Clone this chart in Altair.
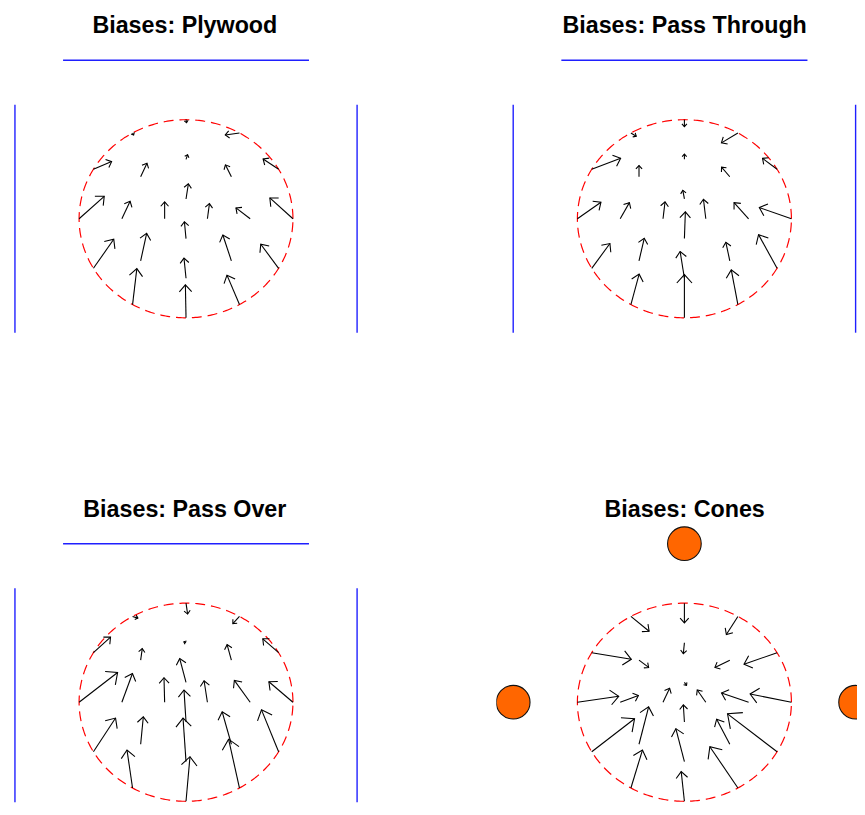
import math
import numpy as np
import pandas as pd
import altair as alt

# ---------------- data ----------------
TITLES = ["Biases: Plywood", "Biases: Pass Through", "Biases: Pass Over", "Biases: Cones"]

# arrow tails: ring radius and polar angle (degrees)
TAIL_R = [1.0] * 12 + [0.6] * 8 + [0.2] * 4
TAIL_DEG = [0, 30, 60, 90, 120, 150, 180, 210, 240, 270, 300, 330,
            0, 45, 90, 135, 180, 225, 270, 315,
            0, 90, 180, 270]

U_PLYWOOD = [-0.216, -0.145, -0.133, 0.005, 0.01, 0.17, 0.235, 0.19, 0.04, -0.006, -0.117, -0.167,
             -0.133, -0.056, 0.015, 0.059, 0.077, 0.056, -0.019, -0.08,
             0.019, 0.022, 0.0, -0.015]
V_PLYWOOD = [0.21, 0.103, -0.02, -0.03, -0.02, 0.077, 0.227, 0.293, 0.363, 0.333, 0.297, 0.243,
             0.11, 0.12, 0.047, 0.137, 0.177, 0.277, 0.203, 0.26,
             0.153, 0.153, 0.17, 0.17]

U_THROUGH = [-0.3, -0.136, -0.154, 0.0, 0.05, 0.27, 0.22, 0.17, 0.077, 0.0, -0.062, -0.173,
             -0.136, -0.077, 0.0, 0.0, 0.086, 0.049, -0.04, -0.037,
             -0.022, -0.015, 0.019, 0.009]
V_THROUGH = [0.113, 0.11, -0.1, -0.07, -0.033, 0.11, 0.167, 0.25, 0.307, 0.437, 0.35, 0.34,
             0.163, 0.097, 0.053, 0.113, 0.163, 0.227, 0.27, 0.187,
             0.197, 0.087, 0.17, 0.27]

U_OVER = [-0.225, -0.148, -0.062, 0.015, 0.05, 0.16, 0.36, 0.207, -0.052, 0.037, -0.102, -0.16,
          -0.148, -0.04, -0.02, 0.015, 0.099, 0.025, -0.028, -0.086,
          -0.031, -0.059, -0.006, -0.019]
V_OVER = [0.207, 0.14, -0.073, -0.11, -0.017, 0.157, 0.3, 0.34, 0.383, 0.45, 0.493, 0.423,
          0.22, 0.157, 0.01, 0.117, 0.29, 0.277, 0.44, 0.327,
          0.217, 0.24, 0.247, 0.323]

U_CONES = [-0.386, -0.309, -0.108, 0.0, 0.17, 0.37, 0.386, 0.4, 0.108, -0.03, -0.262, -0.463,
           -0.253, -0.139, -0.01, 0.09, 0.17, 0.09, -0.08, -0.123,
           -0.08, 0.02, 0.062, -0.01]
V_CONES = [0.083, -0.117, -0.183, -0.2, -0.15, -0.067, 0.06, 0.333, 0.383, 0.3, 0.417, 0.383,
           0.093, -0.073, -0.11, -0.073, 0.067, 0.377, 0.333, 0.253,
           0.123, -0.03, 0.14, 0.173]

# walls (blue) and cones (orange)
WALL_X1 = [-1.15, -1.6, 1.6]
WALL_X2 = [1.15, -1.6, 1.6]
WALL_Y1 = [1.6, -1.15, -1.15]
WALL_Y2 = [1.6, 1.15, 1.15]
CONE_X = [0.0, -1.6, 1.6]
CONE_Y = [1.6, 0.0, 0.0]

# ---------------- layout ----------------
SX, SY = 108.0, 100.0  # px per data unit
XDOM_L = [-1.665, 1.615]
XDOM_R = [-1.757, 1.613]
YDOM_TOP = [-1.78, 1.72]
YDOM_BOT = [-1.01, 1.8]
HEAD_PATH = "M-0.669,0.743L0,0L0.669,0.743"


def panel(title, U, V, walls, cones, xdom, ydom, dx, toff):
    w = round((xdom[1] - xdom[0]) * SX)
    h = round((ydom[1] - ydom[0]) * SY)
    rad = [math.radians(d) for d in TAIL_DEG]
    df = pd.DataFrame({
        "x0": [r * math.cos(a) for r, a in zip(TAIL_R, rad)],
        "y0": [r * math.sin(a) for r, a in zip(TAIL_R, rad)],
        "u": U, "v": V,
    })
    df["x1"] = df["x0"] + df["u"]
    df["y1"] = df["y0"] + df["v"]
    pxx = df["u"] * SX
    pxy = df["v"] * SY
    length = np.hypot(pxx, pxy)
    df["ang"] = (np.degrees(np.arctan2(pxx, pxy)) + 360.0) % 360.0
    df["hs"] = (2 * (2.3 + 0.21 * length)) ** 2

    xs = alt.Scale(domain=xdom, nice=False, zero=False)
    ys = alt.Scale(domain=ydom, nice=False, zero=False)

    ring = alt.Chart(alt.sequence(0, 361, 1, as_="t")).transform_calculate(
        cx="cos(datum.t*PI/180)", cy="sin(datum.t*PI/180)"
    ).mark_line(color="#ff0000", strokeWidth=1.2, strokeDash=[10, 6], clip=True).encode(
        x=alt.X("cx:Q", scale=xs, axis=None),
        y=alt.Y("cy:Q", scale=ys, axis=None),
        order="t:Q",
    )
    layers = [ring]
    if walls:
        wdf = pd.DataFrame({"x1": WALL_X1, "x2": WALL_X2, "y1": WALL_Y1, "y2": WALL_Y2})
        layers.append(alt.Chart(wdf).mark_rule(color="#1f1fff", strokeWidth=1.4, clip=True).encode(
            x=alt.X("x1:Q", scale=xs, axis=None), x2="x2:Q",
            y=alt.Y("y1:Q", scale=ys, axis=None), y2="y2:Q"))
    if cones:
        cdf = pd.DataFrame({"x": CONE_X, "y": CONE_Y})
        layers.append(alt.Chart(cdf).mark_point(
            shape="circle", filled=True, fill="#ff6600", stroke="#111111", strokeWidth=1.1,
            size=1156, opacity=1, clip=True).encode(
            x=alt.X("x:Q", scale=xs, axis=None), y=alt.Y("y:Q", scale=ys, axis=None)))
    layers.append(alt.Chart(df).mark_rule(color="black", strokeWidth=1.1, clip=True).encode(
        x=alt.X("x0:Q", scale=xs, axis=None), x2="x1:Q",
        y=alt.Y("y0:Q", scale=ys, axis=None), y2="y1:Q"))
    layers.append(alt.Chart(df).mark_point(
        shape=HEAD_PATH, filled=False, color="black", strokeWidth=1.1, opacity=1, clip=True).encode(
        x=alt.X("x1:Q", scale=xs, axis=None), y=alt.Y("y1:Q", scale=ys, axis=None),
        angle=alt.Angle("ang:Q", scale=None), size=alt.Size("hs:Q", scale=None)))

    return alt.layer(*layers).properties(
        width=w, height=h,
        title=alt.TitleParams(title, font="Liberation Sans", fontSize=23.5, fontWeight="bold",
                              color="black", anchor="middle", dx=dx, offset=toff),
    )


p1 = panel(TITLES[0], U_PLYWOOD, V_PLYWOOD, True, False, XDOM_L, YDOM_TOP, 1.5, 11)
p2 = panel(TITLES[1], U_THROUGH, V_THROUGH, True, False, XDOM_R, YDOM_TOP, 8, 11)
p3 = panel(TITLES[2], U_OVER, V_OVER, True, False, XDOM_L, YDOM_BOT, 1.5, 2.2)
p4 = panel(TITLES[3], U_CONES, V_CONES, False, True, XDOM_R, YDOM_BOT, 8, 2.2)

chart = alt.vconcat(
    alt.hconcat(p1, p2, spacing=139),
    alt.hconcat(p3, p4, spacing=139),
    spacing=104,
).properties(
    padding={"left": 0, "top": 2, "right": 0, "bottom": 0},
).configure_view(stroke="transparent", strokeWidth=0)

chart.save("out.html", embed_options={"renderer": "svg", "actions": False})
